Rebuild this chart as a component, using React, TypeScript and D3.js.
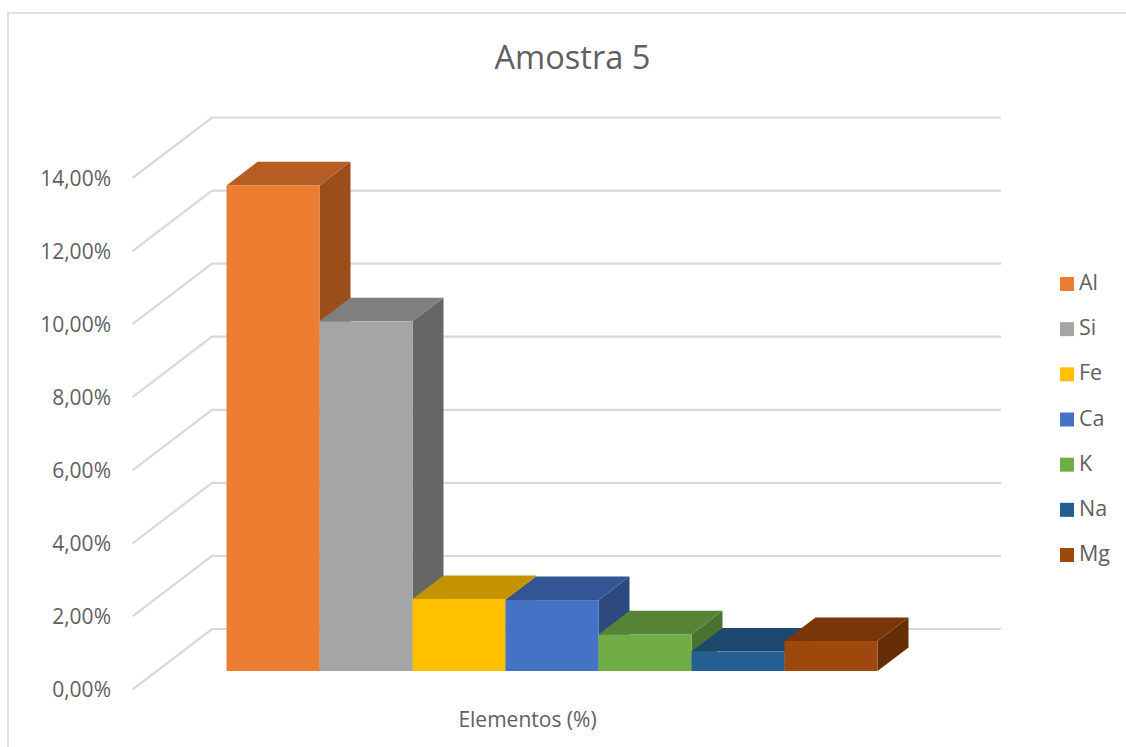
import React from "react";
import * as d3 from "d3";

// Mineral composition of sample 5, in percent
const elements = ["Al", "Si", "Fe", "Ca", "K", "Na", "Mg"];
const percentages = [13.29, 9.57, 1.97, 1.94, 1.0, 0.53, 0.82];
const frontColors = ["#ED7D31", "#A5A5A5", "#FFC000", "#4472C4", "#70AD47", "#255E91", "#9E480E"];
const topColors = ["#B55D22", "#7F7F7F", "#C49400", "#335593", "#568336", "#1C476E", "#793709"];
const sideColors = ["#9A4F1B", "#666666", "#A37A00", "#2C4A80", "#4A7230", "#183C5D", "#672D06"];
const yTicks = [0, 2, 4, 6, 8, 10, 12, 14];

const FONT = "'Open Sans', sans-serif";
const TEXT = "#5F5F5F";
const GRID = "#D9D9D9";

// Height of a value on the axis, in pixels
const rise = d3.scaleLinear().domain([0, 14]).range([0, 511.5]);
// Receding direction of the oblique projection, 0 = front of the floor, 1 = back wall
const depthX = d3.scaleLinear().domain([0, 1]).range([0, 79.5]);
const depthY = d3.scaleLinear().domain([0, 1]).range([0, -60.5]);

const ORIGIN_X = 132.5;
const ORIGIN_Y = 689.5;
const WALL_RIGHT = 1001;
const BAR_FRONT = 0.306;
const BAR_BACK = 0.696;

const band = d3.scaleBand<string>().domain(elements).range([226.5, 877.5]).padding(0);
const legendY = d3.scalePoint<string>().domain(elements).range([284, 555]);

const poly = d3.line<[number, number]>().x((p) => p[0]).y((p) => p[1]);

// Maps a point on the category axis, at some depth and value, onto the page
function floorY(depth: number, value: number): number {
  return ORIGIN_Y + depthY(depth) - rise(value);
}

function Bar({ index }: { index: number }) {
  const name = elements[index];
  const value = percentages[index];
  const x0 = band(name) as number;
  const x1 = x0 + band.bandwidth();
  const dx = depthX(BAR_BACK) - depthX(BAR_FRONT);
  const baseFront = floorY(BAR_FRONT, 0);
  const topFront = floorY(BAR_FRONT, value);
  const baseBack = floorY(BAR_BACK, 0);
  const topBack = floorY(BAR_BACK, value);
  const top: [number, number][] = [[x0, topFront], [x0 + dx, topBack], [x1 + dx, topBack], [x1, topFront]];
  const side: [number, number][] = [[x1, topFront], [x1 + dx, topBack], [x1 + dx, baseBack], [x1, baseFront]];
  return (
    <g>
      <path d={poly(side) + "Z"} fill={sideColors[index]} />
      <path d={poly(top) + "Z"} fill={topColors[index]} />
      <rect x={x0} y={topFront} width={x1 - x0} height={baseFront - topFront} fill={frontColors[index]} />
    </g>
  );
}

export default function App() {
  const wallX = ORIGIN_X + depthX(1);
  return (
    <svg width={1126} height={747} style={{ position: "absolute", left: 0, top: 0, background: "#fff" }}>
      <path d="M8 747V13H1126" fill="none" stroke={GRID} strokeWidth={1.6} />
      <text x={572.5} y={69} textAnchor="middle" fontFamily={FONT} fontSize={32.6} fill={TEXT}>
        Amostra 5
      </text>

      {yTicks.map((t) => {
        const yFront = ORIGIN_Y - rise(t);
        const yBack = floorY(1, t);
        const pts: [number, number][] = [[ORIGIN_X, yFront], [wallX, yBack], [WALL_RIGHT, yBack]];
        return (
          <g key={t}>
            <path d={poly(pts) as string} fill="none" stroke={GRID} strokeWidth={2.2} />
            <text x={111} y={yFront + 7.5} textAnchor="end" fontFamily={FONT} fontSize={21} fill={TEXT}>
              {t.toFixed(2).replace(".", ",") + "%"}
            </text>
          </g>
        );
      })}

      {elements.map((_, i) => (
        <Bar key={elements[i]} index={i} />
      ))}

      <text x={527.5} y={727} textAnchor="middle" fontFamily={FONT} fontSize={21} fill={TEXT}>
        Elementos (%)
      </text>

      {elements.map((name, i) => {
        const cy = legendY(name) as number;
        return (
          <g key={name}>
            <rect x={1060} y={cy - 7} width={14} height={14} fill={frontColors[i]} />
            <text x={1079} y={cy + 6} fontFamily={FONT} fontSize={21.5} fill={TEXT}>
              {name}
            </text>
          </g>
        );
      })}
    </svg>
  );
}
